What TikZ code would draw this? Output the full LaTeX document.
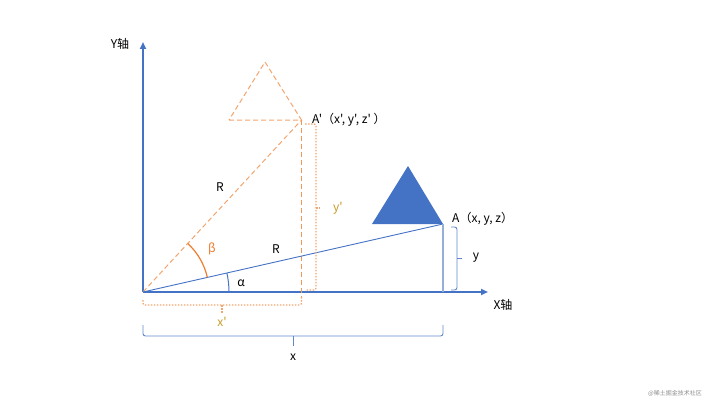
\documentclass[tikz,border=0pt]{standalone}
\usepackage{fontspec}
\setmainfont{Noto Sans CJK SC}[Ligatures=TeXOff]
\usepackage{tikz}
\usetikzlibrary{arrows.meta}
\definecolor{axisblue}{RGB}{68,114,196}
\definecolor{lightblue}{RGB}{150,175,215}
\definecolor{rotorange}{RGB}{237,125,49}
\definecolor{paleorange}{RGB}{242,165,112}
\definecolor{goldtext}{RGB}{200,155,40}

\begin{document}
\begin{tikzpicture}[x=1pt,y=1pt,
    axis/.style={line width=2.2pt,axisblue,-{Triangle[length=7pt,width=6pt]}},
    odash/.style={paleorange,line width=1pt,dash pattern=on 5pt off 3pt},
    odot/.style={paleorange,line width=1.2pt,dash pattern=on 1.5pt off 1.5pt},
    bbrace/.style={axisblue!85,line width=0.9pt,rounded corners=2.5pt},
    lbl/.style={font=\fontsize{12}{14}\selectfont,inner sep=1pt}]
    \useasboundingbox (-143,-113) rectangle (577,292);

    % points
    \coordinate (O) at (0,0);
    \coordinate (A) at (300,68);
    \coordinate (Ap) at (158.5,172);
    \coordinate (Afoot) at (300,0);
    \coordinate (Apfoot) at (158.5,-5);
    \coordinate (xend) at (345,0);
    \coordinate (yend) at (0,250);

    % axes
    \draw[axis] (O) -- (xend);
    \draw[axis] (O) -- (yend);
    \node[lbl] (ylab) at (-23,248) {Y轴};
    \node[lbl] (xlab) at (360,-13) {X轴};

    % rotated point A'
    \draw[odash] (O) -- (Ap);
    \draw[odash] (86,172) -- (Ap) -- (122,230) -- cycle;
    \draw[odash,rotorange!80,line width=1.2pt] (Ap) -- (Apfoot);
    \node[lbl,anchor=west] (Aplab) at (168,172) {A'（x', y', z' ）};

    % point A
    \fill[axisblue] (229,68) -- (A) -- (265,126) -- cycle;
    \draw[axisblue,line width=0.9pt] (O) -- (A);
    \draw[lightblue,line width=1.5pt] (A) -- (Afoot);
    \node[lbl,anchor=west] (Alab) at (308,73) {A（x, y, z）};

    % angles
    \draw[axisblue,line width=1pt] (O) ++(0:86) arc[start angle=0,end angle=12.77,radius=86pt];
    \draw[rotorange,line width=1.2pt] (O) ++(12.77:66) arc[start angle=12.77,end angle=47.43,radius=66pt];
    \node[lbl] (alpha) at (98,9) {α};
    \node[lbl,text=rotorange] (beta) at (69,43) {β};
    \node[lbl] (R1) at (77,105) {R};
    \node[lbl] (R2) at (133,43) {R};

    % braces
    \draw[bbrace] (308,65) -| (314,34) |- (308,2);
    \draw[bbrace] (314,34) -- (319,34);
    \node[lbl] (ylen) at (333,34) {y};
    \draw[odot,rounded corners=2pt] (162,168) -| (173,84) |- (162,2);
    \draw[odot] (173,84) -- (177,84);
    \node[lbl,text=goldtext] (yplen) at (195,84) {y'};
    \draw[odot,rounded corners=2pt] (0,-8) |- (79,-13) -| (Apfoot);
    \draw[odot] (79,-13) -- (79,-21);
    \node[lbl,text=goldtext] (xplen) at (79,-30) {x'};
    \draw[bbrace] (0,-33) |- (150,-44) -| (300,-33);
    \draw[bbrace] (150,-44) -- (150,-54);
    \node[lbl] (xlen) at (150,-65) {x};

    % watermark
    \node[font=\fontsize{6}{7}\selectfont,text=black!45] (mark) at (532,-101) {@稀土掘金技术社区};
\end{tikzpicture}
\end{document}
